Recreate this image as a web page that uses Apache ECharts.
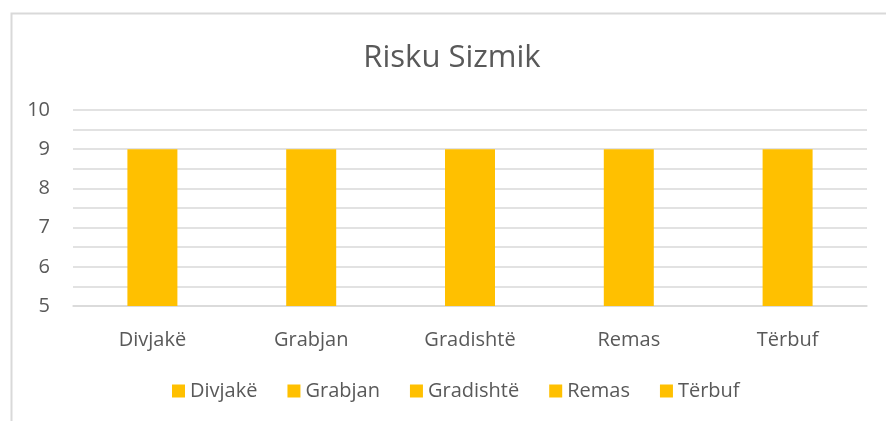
<!DOCTYPE html>
<html>
<head>
<meta charset="utf-8">
<script src="https://cdn.jsdelivr.net/npm/echarts@6/dist/echarts.min.js"></script>
<style>html,body{margin:0;padding:0;background:#fff;}#c{width:886px;height:421px;}</style>
</head>
<body>
<div id="c"></div>
<script>
const titleText = 'Risku Sizmik';
const categories = ['Divjakë', 'Grabjan', 'Gradishtë', 'Remas', 'Tërbuf'];
const values = [9, 9, 9, 9, 9];
const yMin = 5, yMax = 10, yStep = 0.5;

const FONT = 'Open Sans';
const TXT = '#595959';
const GRID = '#d9d9d9';
const BAR = '#FFC000';

const series = categories.map((name, i) => ({
  name: name,
  type: 'bar',
  stack: 'all',
  barWidth: 50,
  itemStyle: { color: BAR },
  data: categories.map((c, j) => (j === i ? values[i] : '-'))
}));

const chart = echarts.init(document.getElementById('c'), null, { renderer: 'canvas' });
chart.setOption({
  animation: false,
  backgroundColor: '#fff',
  textStyle: { fontFamily: FONT },
  graphic: [{
    type: 'rect', left: 9, top: 11, silent: true,
    shape: { width: 900, height: 450 },
    style: { fill: 'none', stroke: GRID, lineWidth: 2 }
  }],
  title: {
    text: titleText, left: 447, top: 38, textAlign: 'center',
    textStyle: { fontFamily: FONT, fontSize: 31, fontWeight: 'normal', color: TXT }
  },
  legend: {
    left: 172, top: 381, padding: 0,
    itemWidth: 13, itemHeight: 13, itemGap: 30, icon: 'rect',
    textStyle: { fontFamily: FONT, fontSize: 20, color: TXT },
    data: categories
  },
  grid: { left: 73, right: 19, top: 110, bottom: 115 },
  xAxis: {
    type: 'category', data: categories,
    axisLine: { lineStyle: { color: GRID, width: 1.5 } },
    axisTick: { show: false },
    axisLabel: { fontFamily: FONT, fontSize: 20, color: TXT, margin: 24 }
  },
  yAxis: {
    type: 'value', min: yMin, max: yMax, interval: yStep,
    axisLine: { show: false }, axisTick: { show: false },
    splitLine: { lineStyle: { color: GRID, width: 1.5 } },
    axisLabel: {
      fontFamily: FONT, fontSize: 20, color: TXT, margin: 23,
      formatter: v => (Math.abs(v - Math.round(v)) < 1e-9 ? String(Math.round(v)) : '')
    }
  },
  series: series
});
</script>
</body>
</html>
